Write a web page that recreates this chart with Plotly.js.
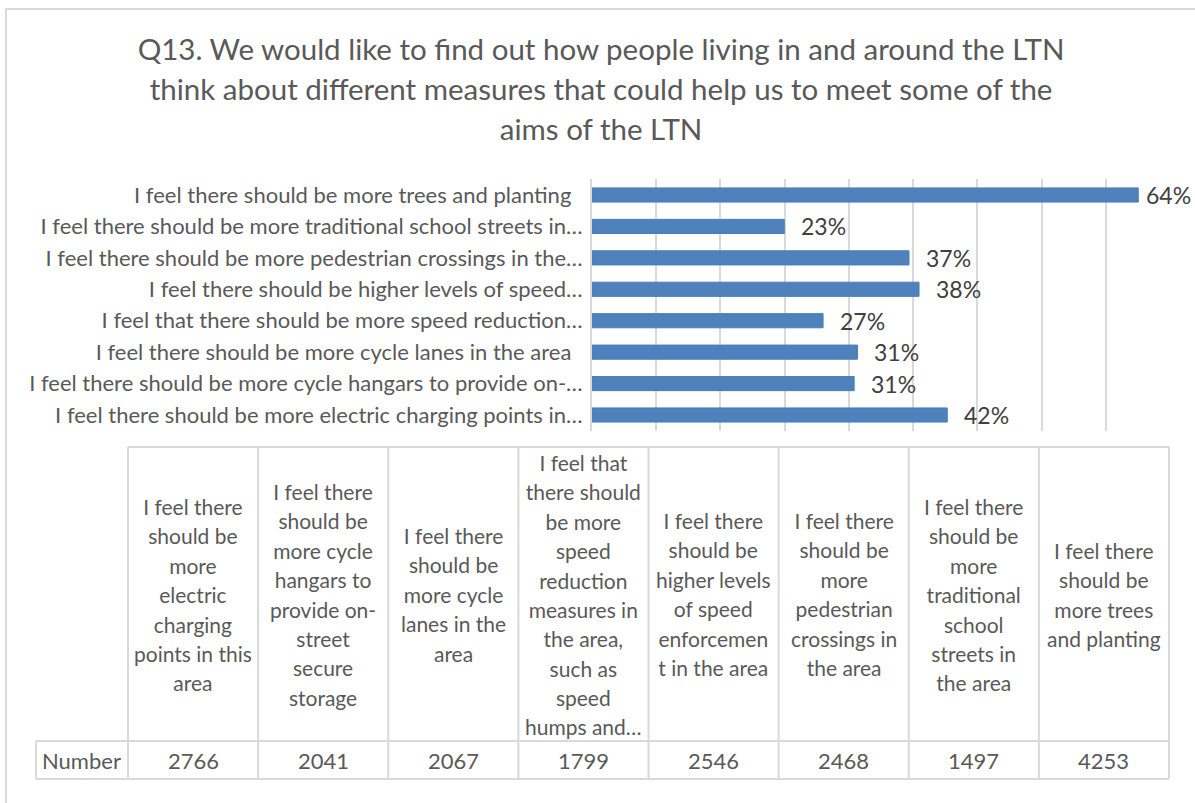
<!DOCTYPE html>
<html><head><meta charset="utf-8">
<script src="https://cdn.plot.ly/plotly-3.0.1.min.js"></script>
<style>html,body{margin:0;padding:0;background:#fff;}#chart{width:1195px;height:803px;}</style>
</head><body><div id="chart"></div>
<script>
// ---- data ----
const categories = [
  "I feel there should be more electric charging points in this area",
  "I feel there should be more cycle hangars to provide on-street secure storage",
  "I feel there should be more cycle lanes in the area",
  "I feel that there should be more speed reduction measures in the area, such as speed humps and…",
  "I feel there should be higher levels of speed enforcement in the area",
  "I feel there should be more pedestrian crossings in the area",
  "I feel there should be more traditional school streets in the area",
  "I feel there should be more trees and planting"
];
const axisLabels = [
  "I feel there should be more electric charging points in…",
  "I feel there should be more cycle hangars to provide on-…",
  "I feel there should be more cycle lanes in the area",
  "I feel that there should be more speed reduction…",
  "I feel there should be higher levels of speed…",
  "I feel there should be more pedestrian crossings in the…",
  "I feel there should be more traditional school streets in…",
  "I feel there should be more trees and planting"
];
const tableHeaders = [
  ["I feel there","should be","more","electric","charging","points in this","area"],
  ["I feel there","should be","more cycle","hangars to","provide on-","street","secure","storage"],
  ["I feel there","should be","more cycle","lanes in the","area"],
  ["I feel that","there should","be more","speed","reduction","measures in","the area,","such as","speed","humps and…"],
  ["I feel there","should be","higher levels","of speed","enforcemen","t in the area"],
  ["I feel there","should be","more","pedestrian","crossings in","the area"],
  ["I feel there","should be","more","traditional","school","streets in","the area"],
  ["I feel there","should be","more trees","and planting"]
];
const rowLabel = "Number";
const counts = [2766, 2041, 2067, 1799, 2546, 2468, 1497, 4253];
const percents = [42, 31, 31, 27, 38, 37, 23, 64];
const titleLines = [
  "Q13. We would like to find out how people living in and around the LTN",
  "think about different measures that could help us to meet some of the",
  "aims of the LTN"
];

// ---- layout helpers ----
const W = 1195, H = 803;
const PL = 592, PR = 1170, PT = 179, PB = 431;
const px = x => (x - PL) / (PR - PL);
const py = y => (PB - y) / (PB - PT);
const FONT = "Lato, 'Open Sans', sans-serif";
const TXT = "#595959";
const GRID = "#d9d9d9";

const bar = {
  type: "bar", orientation: "h",
  x: counts, y: categories,
  marker: {color: "#4f81bd", line: {color: "#4a7ebb", width: 1}},
  hoverinfo: "x+y"
};

const annotations = [];
// data labels
counts.forEach((c, i) => {
  annotations.push({
    x: c, y: categories[i], xref: "x", yref: "y",
    text: percents[i] + "%", showarrow: false,
    xanchor: "left", yanchor: "middle",
    xshift: c > 4000 ? 6 : 15,
    font: {family: FONT, size: 23, color: "#404040"}
  });
});

// data table
const TL = 128, TR = 1169, TT = 447, TM = 741, TB = 779, NL = 36;
const colW = (TR - TL) / counts.length;
const shapes = [];
const lineStyle = {color: GRID, width: 2};
function hline(x0, x1, y) { shapes.push({type: "line", xref: "paper", yref: "paper", x0: px(x0), x1: px(x1), y0: py(y), y1: py(y), line: lineStyle}); }
function vline(x, y0, y1) { shapes.push({type: "line", xref: "paper", yref: "paper", x0: px(x), x1: px(x), y0: py(y0), y1: py(y1), line: lineStyle}); }
hline(TL, TR, TT);
hline(NL, TR, TM);
hline(NL, TR, TB);
vline(NL, TM, TB);
for (let k = 0; k <= counts.length; k++) vline(TL + k * colW, TT, TB);

tableHeaders.forEach((lines, i) => {
  const cx = TL + (i + 0.5) * colW;
  annotations.push({
    xref: "paper", yref: "paper", x: px(cx), y: py((TT + TM) / 2),
    xanchor: "center", yanchor: "middle", align: "center", showarrow: false,
    text: lines.map(l => '<span style="font-size:21px">' + l + '</span>').join("<br>"),
    font: {family: FONT, size: 22.6, color: TXT}
  });
  annotations.push({
    xref: "paper", yref: "paper", x: px(cx), y: py((TM + TB) / 2),
    xanchor: "center", yanchor: "middle", showarrow: false,
    text: String(counts[i]),
    font: {family: FONT, size: 22, color: TXT}
  });
});
annotations.push({
  xref: "paper", yref: "paper", x: px(NL + 4), y: py((TM + TB) / 2),
  xanchor: "left", yanchor: "middle", showarrow: false,
  text: rowLabel, font: {family: FONT, size: 22, color: TXT}
});

// chart border
shapes.push({type: "rect", xref: "paper", yref: "paper", x0: px(6), x1: px(1200), y0: py(9), y1: py(812),
  line: {color: GRID, width: 2}, fillcolor: "rgba(0,0,0,0)", layer: "below"});

const tickText = axisLabels.map(l => l.endsWith("…") ? l : l + "\u00a0\u00a0");

const layout = {
  width: W, height: H,
  margin: {l: PL, r: W - PR, t: PT, b: H - PB, pad: 0},
  paper_bgcolor: "#fff", plot_bgcolor: "#fff",
  showlegend: false,
  bargap: 0.55,
  title: {
    text: titleLines.map(l => '<span style="font-size:29.5px">' + l + '</span>').join("<br>"),
    font: {family: FONT, size: 30.8, color: TXT},
    x: 0.503, xanchor: "center", xref: "container",
    y: 1 - 60 / H, yanchor: "middle", yref: "container"
  },
  xaxis: {
    range: [0, 4500], dtick: 500, tick0: 0,
    showticklabels: false, showgrid: true, gridcolor: GRID, gridwidth: 2,
    zeroline: false, showline: false, ticks: "", fixedrange: true
  },
  yaxis: {
    type: "category", categoryorder: "array", categoryarray: categories,
    tickmode: "array", tickvals: categories, ticktext: tickText,
    ticks: "", ticklabelstandoff: 3,
    tickfont: {family: FONT, size: 22, color: TXT},
    showline: true, linecolor: GRID, linewidth: 2,
    showgrid: false, zeroline: false, fixedrange: true
  },
  shapes: shapes,
  annotations: annotations,
  font: {family: FONT, color: TXT}
};

Plotly.newPlot("chart", [bar], layout, {displayModeBar: false, staticPlot: true});
</script>
</body></html>
